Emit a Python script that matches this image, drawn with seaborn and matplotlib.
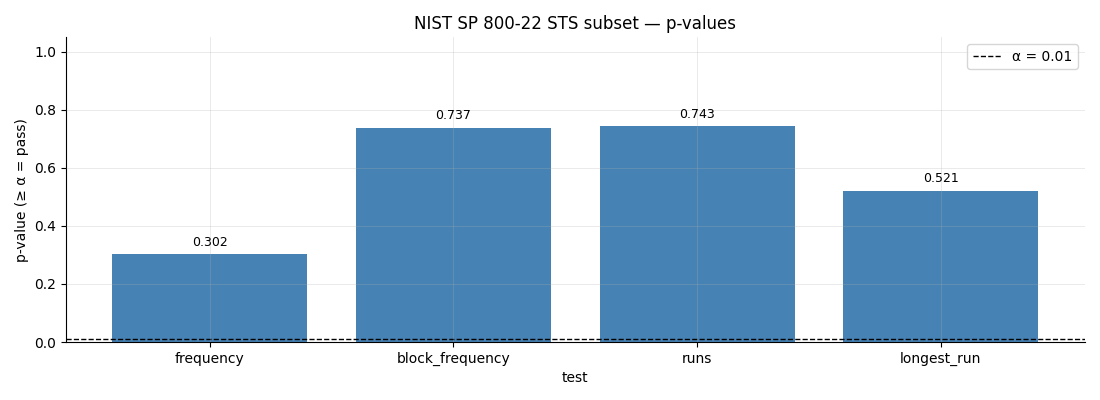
import matplotlib
matplotlib.use("Agg")
import matplotlib.pyplot as plt
import seaborn as sns
import pandas as pd

tests = ["frequency", "block_frequency", "runs", "longest_run"]
p_values = [0.302, 0.737, 0.743, 0.521]
alpha = 0.01

df = pd.DataFrame({"test": tests, "p_value": p_values})

fig, ax = plt.subplots(figsize=(11, 4), dpi=100)
sns.barplot(data=df, x="test", y="p_value", color="#4682b4", saturation=1, width=0.8, ax=ax)
ax.axhline(alpha, color="black", linestyle="--", linewidth=1, label=f"α = {alpha}")
for i, v in enumerate(p_values):
    ax.text(i, v + 0.02, f"{v:.3f}", ha="center", va="bottom", fontsize=9)
ax.set_ylim(0, 1.05)
ax.set_xlim(-0.59, 3.59)
ax.set_title("NIST SP 800-22 STS subset — p-values", fontsize=12)
ax.set_xlabel("test")
ax.set_ylabel("p-value (≥ α = pass)")
ax.grid(True, alpha=0.3, linewidth=0.6)
ax.set_axisbelow(False)
ax.spines["top"].set_visible(False)
ax.spines["right"].set_visible(False)
ax.legend(loc="upper right")
fig.subplots_adjust(left=0.06, right=0.986, top=0.907, bottom=0.145)
fig.savefig("out.png", dpi=100)
